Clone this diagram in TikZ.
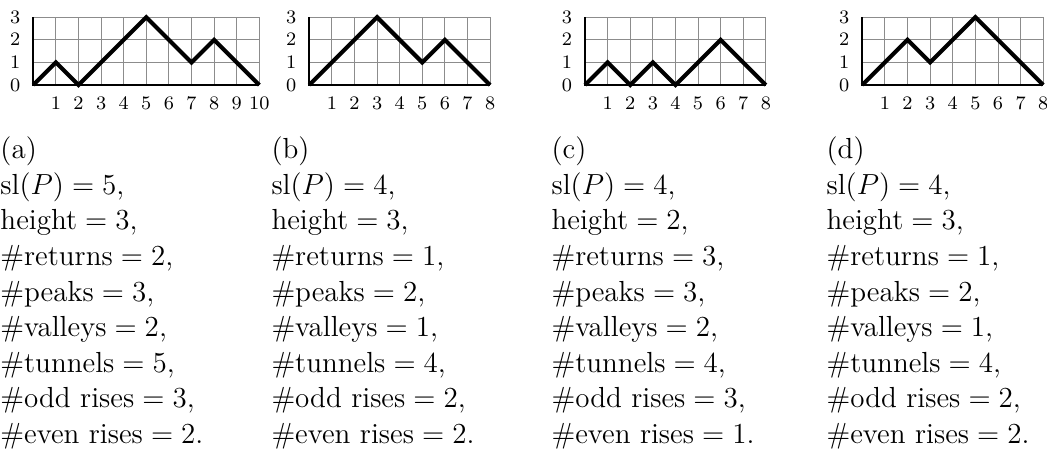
\RequirePackage{fix-cm}
\documentclass[tikz,border=0pt]{standalone}
\usepackage{amsmath,amssymb}
\usetikzlibrary{positioning}

\begin{document}
\begin{tikzpicture}[x=0.35cm,y=0.35cm,
  gridline/.style={draw=black!45,line width=0.4pt},
  axisline/.style={draw=black,line width=0.9pt},
  dyck/.style={draw=black,line width=1.8pt},
  tick/.style={font=\fontsize{8.4}{10}\selectfont,inner sep=0pt},
  stats/.style={align=left,anchor=north west,inner sep=0pt,
                font=\fontsize{12.8}{15.7}\selectfont}
]
\useasboundingbox (-1.473,-16.33) rectangle (44.85,3.761);

% path (a)
\begin{scope}[shift={(0,0)}]
  \draw[gridline,step=1] (0,0) grid (10,3);
  \draw[axisline] (0,3)--(0,0)--(10,0);
  \foreach \y in {0,...,3} \node[tick] (ya\y) at (-0.8,\y) {$\y$};
  \foreach \x in {1,...,10} \node[tick] (xa\x) at (\x,-0.8) {$\x$};
  \draw[dyck] (0,0)--(1,1)--(2,0)--(3,1)--(4,2)--(5,3)--(6,2)--(7,1)--(8,2)--(9,1)--(10,0);
\end{scope}

% path (b)
\begin{scope}[shift={(12.21,0)}]
  \draw[gridline,step=1] (0,0) grid (8,3);
  \draw[axisline] (0,3)--(0,0)--(8,0);
  \foreach \y in {0,...,3} \node[tick] (yb\y) at (-0.8,\y) {$\y$};
  \foreach \x in {1,...,8} \node[tick] (xb\x) at (\x,-0.8) {$\x$};
  \draw[dyck] (0,0)--(1,1)--(2,2)--(3,3)--(4,2)--(5,1)--(6,2)--(7,1)--(8,0);
\end{scope}

% path (c)
\begin{scope}[shift={(24.41,0)}]
  \draw[gridline,step=1] (0,0) grid (8,3);
  \draw[axisline] (0,3)--(0,0)--(8,0);
  \foreach \y in {0,...,3} \node[tick] (yc\y) at (-0.8,\y) {$\y$};
  \foreach \x in {1,...,8} \node[tick] (xc\x) at (\x,-0.8) {$\x$};
  \draw[dyck] (0,0)--(1,1)--(2,0)--(3,1)--(4,0)--(5,1)--(6,2)--(7,1)--(8,0);
\end{scope}

% path (d)
\begin{scope}[shift={(36.68,0)}]
  \draw[gridline,step=1] (0,0) grid (8,3);
  \draw[axisline] (0,3)--(0,0)--(8,0);
  \foreach \y in {0,...,3} \node[tick] (yd\y) at (-0.8,\y) {$\y$};
  \foreach \x in {1,...,8} \node[tick] (xd\x) at (\x,-0.8) {$\x$};
  \draw[dyck] (0,0)--(1,1)--(2,2)--(3,1)--(4,2)--(5,3)--(6,2)--(7,1)--(8,0);
\end{scope}

% statistics
\node[stats] (sta) at (-1.473,-2.27) {(a)\\ $\mathrm{sl}(P)=5$,\\ $\text{height}=3$,\\
  $\#\text{returns}=2$,\\ $\#\text{peaks}=3$,\\ $\#\text{valleys}=2$,\\
  $\#\text{tunnels}=5$,\\ $\#\text{odd rises}=3$,\\ $\#\text{even rises}=2$.};
\node[stats] (stb) at (10.52,-2.27) {(b)\\ $\mathrm{sl}(P)=4$,\\ $\text{height}=3$,\\
  $\#\text{returns}=1$,\\ $\#\text{peaks}=2$,\\ $\#\text{valleys}=1$,\\
  $\#\text{tunnels}=4$,\\ $\#\text{odd rises}=2$,\\ $\#\text{even rises}=2$.};
\node[stats] (stc) at (22.91,-2.27) {(c)\\ $\mathrm{sl}(P)=4$,\\ $\text{height}=2$,\\
  $\#\text{returns}=3$,\\ $\#\text{peaks}=3$,\\ $\#\text{valleys}=2$,\\
  $\#\text{tunnels}=4$,\\ $\#\text{odd rises}=3$,\\ $\#\text{even rises}=1$.};
\node[stats] (std) at (35.08,-2.27) {(d)\\ $\mathrm{sl}(P)=4$,\\ $\text{height}=3$,\\
  $\#\text{returns}=1$,\\ $\#\text{peaks}=2$,\\ $\#\text{valleys}=1$,\\
  $\#\text{tunnels}=4$,\\ $\#\text{odd rises}=2$,\\ $\#\text{even rises}=2$.};
\end{tikzpicture}
\end{document}
